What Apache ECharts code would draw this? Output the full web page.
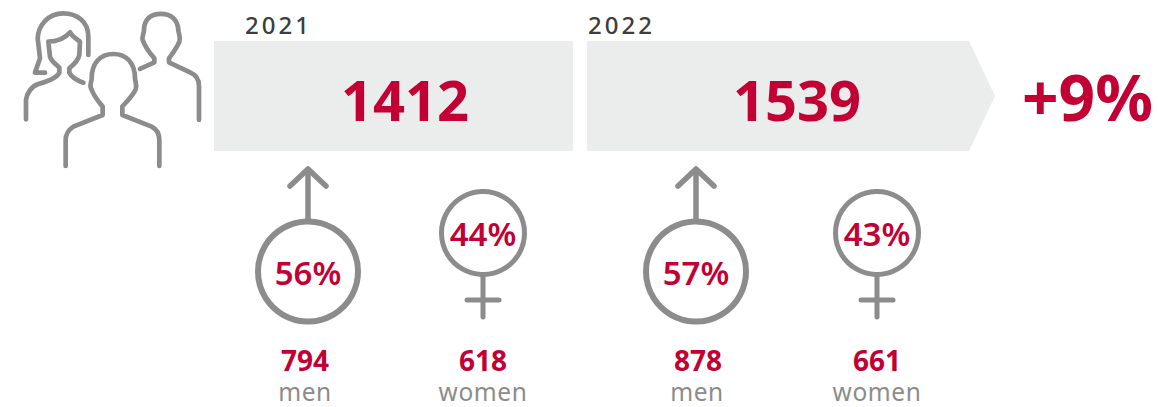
<!DOCTYPE html>
<html>
<head>
<meta charset="utf-8">
<title>Staff 2021 - 2022</title>
<script src="https://cdn.jsdelivr.net/npm/echarts@6/dist/echarts.min.js"></script>
<style>
  html, body { margin: 0; padding: 0; background: #fff; }
  #chart { width: 1158px; height: 407px; }
  /* letter spacing, canvas can't do this so the svg renderer is used */
  #chart text[style*="24px"] { letter-spacing: 3px; }
  #chart text[style*="24.5px"] { letter-spacing: 0.6px; }
</style>
</head>
<body>
<div id="chart"></div>
<script>
const years = ['2021', '2022'];
const totals = [1412, 1539];
const growth = '+9%';
const menCounts = [794, 878];
const womenCounts = [618, 661];
const menShare = [56, 57];
const womenShare = [44, 43];
const menLabel = 'men';
const womenLabel = 'women';

const RED = '#c20033';
const GREY = '#8c8c8c';
const BAND = '#ebeded';
const FONT = '"Noto Sans", sans-serif';

// pixel layout, one entry per year
const bandX = [[214, 573], [587, 969]];
const yearX = [245, 588];
const totalX = [405, 797];
const menX = [308, 696];
const womenX = [483, 877];

// people icon, outline traced at 3x
const peoplePath =
  'M265,165 L265,110 C265,65 230,40 190,40 C145,40 115,75 113,115 L120,175 L105,218 L135,218 ' +
  'M208,205 C220,195 235,180 238,165 L240,125 C230,118 215,108 210,97 C195,115 170,125 145,125 L150,170 C155,185 165,190 178,203 L178,218 C170,235 140,245 115,252 C95,258 80,280 78,300 L78,358 ' +
  'M208,205 L208,218 C215,232 232,242 250,248 ' +
  'M420,207 L463,187 L463,175 C450,160 435,140 428,120 C425,110 432,100 432,90 C432,60 450,42 482,42 C515,42 533,60 535,90 C535,100 543,110 538,125 C530,145 518,160 507,175 L507,187 L570,217 C590,225 597,240 597,258 L597,360 ' +
  'M197,498 L197,420 C197,400 205,390 220,380 L308,345 L308,320 C295,305 280,285 273,265 C268,255 275,245 275,235 C275,190 300,162 340,162 C380,162 405,190 405,235 C405,245 412,255 407,268 C400,285 380,305 367,320 L367,345 L455,380 C470,388 478,400 478,420 L478,498';

const chart = echarts.init(document.getElementById('chart'), null, { renderer: 'svg' });

function txt(api, x, y, text, size, weight, color, align) {
  const p = api.coord([x, y]);
  return {
    type: 'text',
    x: p[0],
    y: p[1],
    style: {
      text: String(text),
      fill: color,
      font: weight + ' ' + size + 'px ' + FONT,
      lineHeight: size,
      textAlign: align || 'center',
      textVerticalAlign: 'middle'
    }
  };
}

function line(api, pts, width) {
  return {
    type: 'polyline',
    shape: { points: pts.map((p) => api.coord(p)) },
    style: { stroke: GREY, lineWidth: width, fill: null, lineCap: 'round', lineJoin: 'round' }
  };
}

function circle(api, x, y, r, width) {
  const p = api.coord([x, y]);
  return {
    type: 'circle',
    shape: { cx: p[0], cy: p[1], r: r },
    style: { stroke: GREY, lineWidth: width, fill: '#fff' }
  };
}

const option = {
  animation: false,
  backgroundColor: '#fff',
  grid: { left: 0, right: 0, top: 0, bottom: 0 },
  xAxis: { type: 'value', min: 0, max: 1158, show: false },
  yAxis: { type: 'value', min: 0, max: 407, inverse: true, show: false },
  series: [
    {
      // the two grey bands with the year and the total
      type: 'custom',
      coordinateSystem: 'cartesian2d',
      silent: true,
      data: years.map((y, i) => [i, totals[i]]),
      renderItem: (params, api) => {
        const i = api.value(0);
        const b = bandX[i];
        const pts = [[b[0], 41], [b[1], 41]];
        if (i === years.length - 1) pts.push([995, 96]);
        pts.push([b[1], 151], [b[0], 151]);
        return {
          type: 'group',
          children: [
            {
              type: 'polygon',
              shape: { points: pts.map((p) => api.coord(p)) },
              style: { fill: BAND }
            },
            txt(api, yearX[i], 24, years[i], 24, 500, '#3d3d3d', 'left'),
            txt(api, totalX[i], 99, api.value(1), 56, 700, RED)
          ]
        };
      }
    },
    {
      // male symbols
      type: 'custom',
      coordinateSystem: 'cartesian2d',
      silent: true,
      data: years.map((y, i) => [i, menShare[i], menCounts[i]]),
      renderItem: (params, api) => {
        const i = api.value(0);
        const x = menX[i];
        return {
          type: 'group',
          children: [
            line(api, [[x, 222], [x, 171]], 5.5),
            line(api, [[x - 18, 186], [x, 169], [x + 18, 186]], 5.5),
            circle(api, x, 271.5, 50, 6),
            txt(api, x, 272, api.value(1) + '%', 33, 600, RED),
            txt(api, x - 3 + i * 5, 360, api.value(2), 28, 700, RED),
            txt(api, x - 3 + i * 4, 391, menLabel, 24.5, 400, GREY)
          ]
        };
      }
    },
    {
      // female symbols
      type: 'custom',
      coordinateSystem: 'cartesian2d',
      silent: true,
      data: years.map((y, i) => [i, womenShare[i], womenCounts[i]]),
      renderItem: (params, api) => {
        const i = api.value(0);
        const x = womenX[i];
        return {
          type: 'group',
          children: [
            line(api, [[x, 276], [x, 317]], 5),
            line(api, [[x - 16, 300], [x + 16, 300]], 5),
            circle(api, x, 233, 41.5, 5),
            txt(api, x, 233, api.value(1) + '%', 33, 600, RED),
            txt(api, x, 360, api.value(2), 28, 700, RED),
            txt(api, x, 391, womenLabel, 24.5, 400, GREY)
          ]
        };
      }
    },
    {
      // people icon
      type: 'custom',
      coordinateSystem: 'cartesian2d',
      silent: true,
      data: [[0]],
      renderItem: () => ({
        type: 'path',
        shape: { pathData: peoplePath, x: 26, y: 13.3, width: 173, height: 152.7, layout: 'cover' },
        style: { stroke: GREY, lineWidth: 4.7, fill: null, lineCap: 'round', lineJoin: 'round' }
      })
    }
  ],
  graphic: [
    {
      type: 'text',
      x: 1022,
      y: 96,
      silent: true,
      style: {
        text: growth,
        fill: RED,
        font: '700 64px ' + FONT,
        lineHeight: 64,
        textAlign: 'left',
        textVerticalAlign: 'middle'
      }
    }
  ]
};

chart.setOption(option);
</script>
</body>
</html>
